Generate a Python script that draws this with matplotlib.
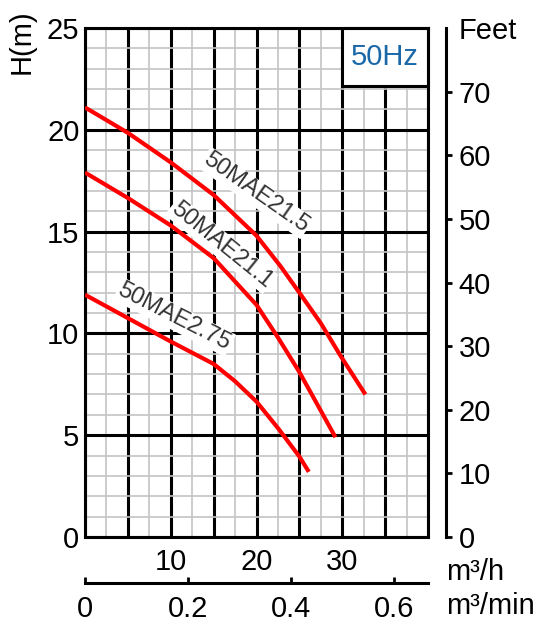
import matplotlib
matplotlib.use("Agg")
import matplotlib.pyplot as plt
from matplotlib.patches import Rectangle

plt.rcParams['font.family'] = ['Liberation Sans', 'DejaVu Sans']

# pump curves: flow in m3/h, head in m
q_215 = [0, 5, 10, 15, 20, 22.8, 25, 27.5, 29.8, 32.7]
h_215 = [21.1, 19.85, 18.4, 16.8, 14.8, 13.3, 12.0, 10.5, 8.9, 7.0]

q_211 = [0, 5, 10, 15, 20, 22.5, 25, 27.5, 29.2]
h_211 = [17.9, 16.65, 15.3, 13.7, 11.4, 9.8, 8.1, 6.2, 4.9]

q_275 = [0, 5, 10, 15, 17.5, 20, 22.5, 25, 26.1]
h_275 = [11.9, 10.75, 9.6, 8.5, 7.65, 6.65, 5.35, 3.95, 3.2]

curve_names = ['50MAE21.5', '50MAE21.1', '50MAE2.75']
label_pos = [(19.9, 16.9, -35), (15.9, 14.35, -39), (10.4, 10.8, -27)]

x_max = 40
y_max = 25
feet_max = 80
x_ticks = [0, 5, 10, 15, 20, 25, 30, 35, 40]
x_labels = ['', '', '10', '', '20', '', '30', '', '']
y_ticks = [0, 5, 10, 15, 20, 25]
feet_ticks = [0, 10, 20, 30, 40, 50, 60, 70]
min_ticks = [0, 0.2, 0.4, 0.6]
min_labels = ['0', '0.2', '0.4', '0.6']

fs = 21

fig = plt.figure(figsize=(5.42, 6.25), dpi=100)
ax = fig.add_axes([85 / 542, 88 / 625, 343 / 542, 509 / 625])

ax.set_xlim(0, x_max)
ax.set_ylim(0, y_max)
ax.set_xticks(x_ticks)
ax.set_xticklabels(x_labels)
ax.set_xticks([i * 2.5 for i in range(17)], minor=True)
ax.set_yticks(y_ticks)
ax.set_yticks(range(0, 26), minor=True)
ax.set_axisbelow(True)
ax.grid(which='minor', color='#c4c4c4', lw=1.2)
ax.grid(which='major', color='black', lw=2.2)
ax.tick_params(which='both', length=0)
ax.tick_params(axis='y', labelsize=fs, pad=4)
ax.tick_params(axis='x', labelsize=fs, pad=8)
for s in ax.spines.values():
    s.set_linewidth(2.2)

# 50Hz box
ax.add_patch(Rectangle((30, 22.15), 10, 2.85, facecolor='white',
                       edgecolor='black', lw=2.2, zorder=1.5, clip_on=False))
ax.text(35, 23.6, '50Hz', color='#1a68a8', fontsize=fs,
        ha='center', va='center', zorder=2)

for name, (lx, ly, rot) in zip(curve_names, label_pos):
    ax.text(lx, ly, name, rotation=rot, ha='center', va='center',
            fontsize=17, color='#333333', zorder=3,
            bbox=dict(facecolor='white', edgecolor='none', pad=1))

for q, h in [(q_215, h_215), (q_211, h_211), (q_275, h_275)]:
    ax.plot(q, h, color='#ff0000', lw=3, solid_capstyle='butt',
            solid_joinstyle='round', zorder=4)

# feet axis
axf = ax.twinx()
axf.set_ylim(0, feet_max)
axf.set_yticks(feet_ticks)
for k in ['top', 'left', 'bottom']:
    axf.spines[k].set_visible(False)
axf.spines['right'].set_position(('outward', 13))
axf.spines['right'].set_linewidth(2.2)
axf.tick_params(axis='y', direction='out', length=4, width=2,
                labelsize=fs, pad=5)

# m3/min axis
axm = ax.twiny()
axm.set_xlim(0, x_max / 60)
axm.set_xticks(min_ticks)
axm.set_xticklabels(min_labels)
axm.xaxis.set_ticks_position('bottom')
axm.xaxis.set_label_position('bottom')
for k in ['top', 'left', 'right']:
    axm.spines[k].set_visible(False)
axm.spines['bottom'].set_position(('outward', 33))
axm.spines['bottom'].set_linewidth(2.2)
axm.tick_params(axis='x', direction='in', length=4, width=2,
                labelsize=fs, pad=9)

fig.text(22 / 542, 1 - 42 / 625, 'H(m)', rotation=90, fontsize=fs,
         ha='center', va='center')
fig.text(459 / 542, 1 - 31 / 625, 'Feet', fontsize=fs, ha='left', va='center')
fig.text(446 / 542, 1 - 572 / 625, 'm³/h', fontsize=fs, ha='left', va='center')
fig.text(446 / 542, 1 - 606 / 625, 'm³/min', fontsize=fs, ha='left', va='center')

fig.savefig('out.png', dpi=100)
